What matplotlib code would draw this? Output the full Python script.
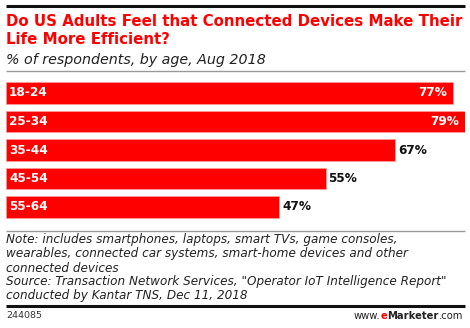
import matplotlib
matplotlib.use("Agg")
import matplotlib.pyplot as plt
from matplotlib.lines import Line2D

# Chart data
age_groups = ["18-24", "25-34", "35-44", "45-54", "55-64"]
shares = [77, 79, 67, 55, 47]
value_labels = ["77%", "79%", "67%", "55%", "47%"]

title_lines = ["Do US Adults Feel that Connected Devices Make Their",
               "Life More Efficient?"]
subtitle = "% of respondents, by age, Aug 2018"
note_lines = [
    "Note: includes smartphones, laptops, smart TVs, game consoles,",
    "wearables, connected car systems, smart-home devices and other",
    "connected devices",
    "Source: Transaction Network Services, \"Operator IoT Intelligence Report\"",
    "conducted by Kantar TNS, Dec 11, 2018",
]
chart_id = "244085"

W, H = 470, 328
RED = "#ff0000"
FONT = "DejaVu Sans"

fig = plt.figure(figsize=(W / 100, H / 100), dpi=100)
fig.patch.set_facecolor("white")


def fx(px):
    return px / W


def fy(py):
    return 1 - py / H


def hline(y, x0, x1, color, lw):
    fig.add_artist(Line2D([fx(x0), fx(x1)], [fy(y), fy(y)], color=color,
                          linewidth=lw, transform=fig.transFigure,
                          solid_capstyle="butt"))


# Header rules and titles
hline(6, 6, 465, "#111111", 2.2)
fig.text(fx(6), fy(21), title_lines[0], color=RED, fontsize=10.8,
         fontweight="bold", family=FONT, va="center", ha="left")
fig.text(fx(6), fy(40), title_lines[1], color=RED, fontsize=10.8,
         fontweight="bold", family=FONT, va="center", ha="left")
fig.text(fx(6), fy(60), subtitle, color="#222222", fontsize=10.3,
         style="italic", family=FONT, va="center", ha="left")
hline(71, 6, 465, "#999999", 1.0)

# Bars
slot = 28.5
top = 93 - slot / 2
ax = fig.add_axes([fx(6), fy(top + slot * 5), fx(465) - fx(6), slot * 5 / H])
ax.set_xlim(0, max(shares))
ax.set_ylim(len(age_groups) - 0.5, -0.5)
ax.axis("off")
ypos = list(range(len(age_groups)))
ax.barh(ypos, shares, height=0.76, color=RED, edgecolor="#ff9a9a",
        linewidth=0.6)

for y, cat, v, lab in zip(ypos, age_groups, shares, value_labels):
    ax.annotate(cat, (0, y), xytext=(3, 0), textcoords="offset pixels",
                color="white", fontsize=8.7, fontweight="bold",
                family=FONT, va="center", ha="left")
    if v >= 70:
        ax.annotate(lab, (v, y), xytext=(-6, 0), textcoords="offset pixels",
                    color="white", fontsize=8.7, fontweight="bold",
                    family=FONT, va="center", ha="right")
    else:
        ax.annotate(lab, (v, y), xytext=(3, 0), textcoords="offset pixels",
                    color="#111111", fontsize=8.7, fontweight="bold",
                    family=FONT, va="center", ha="left")

# Footer
hline(231, 6, 465, "#999999", 1.0)
for i, line in enumerate(note_lines):
    fig.text(fx(6), fy(240 + 14 * i), line, color="#222222", fontsize=8.65,
             style="italic", family=FONT, va="center", ha="left")
hline(306, 6, 465, "#111111", 2.2)
fig.text(fx(6), fy(316), chart_id, color="#333333", fontsize=6.8,
         family=FONT, va="center", ha="left")

# Site mark, assembled right to left
renderer = fig.canvas.get_renderer()
pieces = [(".com", "normal", "#222222"), ("Marketer", "bold", "#222222"),
          ("e", "bold", RED), ("www.", "normal", "#222222")]
x_right = 463
for txt, weight, col in pieces:
    t = fig.text(fx(x_right), fy(316), txt, color=col, fontsize=7.2,
                 fontweight=weight, family=FONT, va="center", ha="right")
    bb = t.get_window_extent(renderer)
    x_right -= bb.width

fig.savefig("out.png", dpi=100, facecolor="white")
